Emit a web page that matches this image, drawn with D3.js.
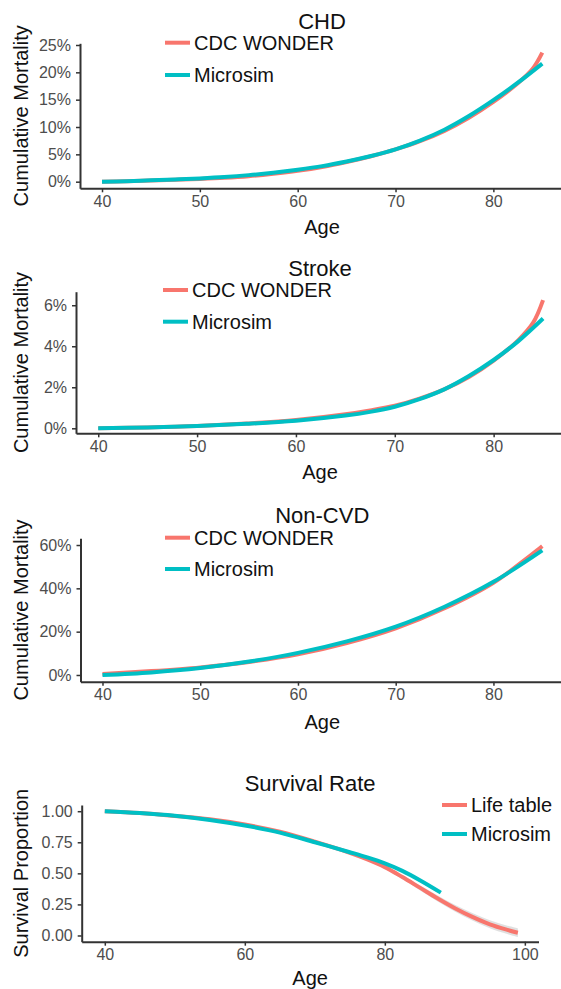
<!DOCTYPE html>
<html>
<head>
<meta charset="utf-8">
<script src="https://d3js.org/d3.v7.min.js"></script>
<style>
  body { margin: 0; background: #fff; }
  svg { display: block; font-family: "Liberation Sans", Arial, sans-serif; }
</style>
</head>
<body>
<div id="chart"></div>
<script>
// ---- data ----
// CHD cumulative mortality (%)
var chdAgeMicro = [40, 42.5, 45, 47.5, 50, 52.5, 55, 57.5, 60, 62.5, 65, 67.5, 70, 72.5, 75, 77.5, 80, 82.5, 85];
var chdMicro    = [0, 0.1, 0.25, 0.4, 0.6, 0.85, 1.2, 1.65, 2.2, 2.85, 3.7, 4.7, 5.9, 7.5, 9.5, 12.0, 14.9, 18.1, 21.6];
var chdAgeCdc   = [40, 42.5, 45, 47.5, 50, 52.5, 55, 57.5, 60, 62.5, 65, 67.5, 70, 72.5, 75, 77.5, 80, 82.5, 84, 85];
var chdCdc      = [0, 0.08, 0.2, 0.35, 0.5, 0.7, 1.0, 1.45, 2.0, 2.7, 3.6, 4.65, 5.9, 7.4, 9.3, 11.7, 14.6, 18.0, 20.6, 23.6];

// Stroke cumulative mortality (%)
var strokeAgeMicro = [40, 45, 50, 55, 60, 65, 67.5, 70, 72.5, 75, 77.5, 80, 82.5, 85];
var strokeMicro    = [0, 0.04, 0.11, 0.22, 0.37, 0.62, 0.8, 1.05, 1.42, 1.9, 2.55, 3.33, 4.25, 5.35];
var strokeAgeCdc   = [40, 45, 50, 55, 60, 65, 67.5, 70, 72.5, 75, 77.5, 80, 82.5, 84, 85];
var strokeCdc      = [0, 0.04, 0.11, 0.23, 0.4, 0.68, 0.87, 1.1, 1.45, 1.9, 2.5, 3.3, 4.3, 5.15, 6.25];

// Non-CVD cumulative mortality (%)
var noncvdAge   = [40, 45, 50, 55, 60, 65, 70, 75, 80, 85];
var noncvdMicro = [0, 1.2, 3.2, 6.2, 10.2, 15.5, 22.3, 31.5, 43, 57.5];
var noncvdCdc   = [0.5, 1.8, 3.5, 6.0, 9.5, 14.7, 21.5, 30.8, 42.6, 59.5];

// Survival proportion
var survAgeLife = [40, 45, 50, 55, 60, 65, 70, 75, 77.5, 80, 82.5, 85, 87.5, 90, 92.5, 95, 97.5, 99];
var survLife    = [1.0, 0.985, 0.962, 0.935, 0.893, 0.835, 0.755, 0.665, 0.612, 0.55, 0.47, 0.385, 0.30, 0.22, 0.15, 0.09, 0.045, 0.022];
var survLifeLow = [0.996, 0.981, 0.958, 0.931, 0.889, 0.831, 0.75, 0.659, 0.603, 0.538, 0.454, 0.365, 0.276, 0.193, 0.12, 0.058, 0.011, -0.013];
var survLifeHigh= [1.004, 0.989, 0.966, 0.939, 0.897, 0.839, 0.76, 0.671, 0.621, 0.562, 0.486, 0.405, 0.324, 0.247, 0.18, 0.122, 0.079, 0.057];
var survAgeMicro= [40, 45, 50, 55, 60, 65, 70, 75, 77.5, 80, 82.5, 85, 88];
var survMicro   = [1.0, 0.985, 0.963, 0.93, 0.885, 0.828, 0.75, 0.67, 0.628, 0.58, 0.52, 0.445, 0.345];

var pctTicks1 = [0, 5, 10, 15, 20, 25];
var pctTicks2 = [0, 2, 4, 6];
var pctTicks3 = [0, 20, 40, 60];
var survTicks = [0, 0.25, 0.5, 0.75, 1];
var ageTicksA = [40, 50, 60, 70, 80];
var ageTicksB = [40, 60, 80, 100];

var cdcLabels  = ["CDC WONDER", "Microsim"];
var lifeLabels = ["Life table", "Microsim"];

var red = "#F8766D", teal = "#00BFC4";

function zip(xs, ys) { return xs.map(function(x, i) { return [x, ys[i]]; }); }

// ---- panel layouts ----
var panels = [
  { title: "CHD", ytitle: "Cumulative Mortality",
    xd: [37.75, 87.25], xr: [80, 564.3], yd: [-1.21, 25.31], yr: [188.3, 43.3],
    xt: ageTicksA, yt: pctTicks1, fmt: function(d){ return d + "%"; },
    series: [{ pts: zip(chdAgeCdc, chdCdc), c: red }, { pts: zip(chdAgeMicro, chdMicro), c: teal }],
    legend: { labels: cdcLabels, x: 165, y: [42.7, 75] },
    titleY: 21, ageY: 227 },
  { title: "Stroke", ytitle: "Cumulative Mortality",
    xd: [37.75, 87.25], xr: [76, 565.3], yd: [-0.244, 6.66], yr: [433.3, 291.7],
    xt: ageTicksA, yt: pctTicks2, fmt: function(d){ return d + "%"; },
    series: [{ pts: zip(strokeAgeCdc, strokeCdc), c: red }, { pts: zip(strokeAgeMicro, strokeMicro), c: teal }],
    legend: { labels: cdcLabels, x: 163, y: [290, 321.7] },
    titleY: 268.5, ageY: 472 },
  { title: "Non-CVD", ytitle: "Cumulative Mortality",
    xd: [37.75, 87.25], xr: [80.5, 564.3], yd: [-3.1, 63.1], yr: [681.7, 538.3],
    xt: ageTicksA, yt: pctTicks3, fmt: function(d){ return d + "%"; },
    series: [{ pts: zip(noncvdAge, noncvdCdc), c: red }, { pts: zip(noncvdAge, noncvdMicro), c: teal }],
    legend: { labels: cdcLabels, x: 165, y: [537.7, 569] },
    titleY: 515, ageY: 722 },
  { title: "Survival Rate", ytitle: "Survival Proportion",
    xd: [36.7, 101.95], xr: [81.7, 538.5], yd: [-0.05, 1.05], yr: [941.7, 805],
    xt: ageTicksB, yt: survTicks, fmt: d3.format(".2f"),
    ribbon: { x: survAgeLife, lo: survLifeLow, hi: survLifeHigh },
    series: [{ pts: zip(survAgeLife, survLife), c: red }, { pts: zip(survAgeMicro, survMicro), c: teal }],
    legend: { labels: lifeLabels, x: 442, y: [805, 834] },
    titleY: 783.5, ageY: 978 }
];

var svg = d3.select("#chart").append("svg")
  .attr("width", 561)
  .attr("height", 989);

panels.forEach(function(p) {
  var x = d3.scaleLinear().domain(p.xd).range(p.xr);
  var y = d3.scaleLinear().domain(p.yd).range(p.yr);
  var g = svg.append("g");

  // confidence band
  if (p.ribbon) {
    var band = p.ribbon.x.map(function(a, i) { return { a: a, lo: p.ribbon.lo[i], hi: p.ribbon.hi[i] }; });
    g.append("path")
      .datum(band)
      .attr("d", d3.area()
        .x(function(d){ return x(d.a); })
        .y0(function(d){ return y(d.lo); })
        .y1(function(d){ return y(d.hi); })
        .curve(d3.curveCatmullRom))
      .attr("fill", "#bbb")
      .attr("opacity", 0.45);
  }

  var line = d3.line()
    .x(function(d){ return x(d[0]); })
    .y(function(d){ return y(d[1]); })
    .curve(d3.curveCatmullRom);

  p.series.forEach(function(s) {
    g.append("path")
      .attr("d", line(s.pts))
      .attr("fill", "none")
      .attr("stroke", s.c)
      .attr("stroke-width", 4)
      .attr("stroke-linecap", "butt");
  });

  // axes
  var xAxis = g.append("g")
    .attr("transform", "translate(0," + p.yr[0] + ")")
    .call(d3.axisBottom(x).tickValues(p.xt).tickSize(4).tickPadding(3).tickSizeOuter(0));
  var yAxis = g.append("g")
    .attr("transform", "translate(" + p.xr[0] + ",0)")
    .call(d3.axisLeft(y).tickValues(p.yt).tickFormat(p.fmt).tickSize(4).tickPadding(5).tickSizeOuter(0));
  [xAxis, yAxis].forEach(function(a) {
    a.select(".domain").attr("stroke", "#333").attr("stroke-width", 2);
    a.selectAll(".tick line").attr("stroke", "#333").attr("stroke-width", 1.5);
    a.selectAll(".tick text").attr("fill", "#4d4d4d").style("font-size", "16px");
  });

  var cx = (p.xr[0] + Math.min(p.xr[1], 564)) / 2;

  // title
  svg.append("text")
    .attr("x", cx).attr("y", p.titleY)
    .attr("text-anchor", "middle").attr("dominant-baseline", "central")
    .style("font-size", "22px").attr("fill", "#111")
    .text(p.title);

  // axis titles
  svg.append("text")
    .attr("x", cx).attr("y", p.ageY)
    .attr("text-anchor", "middle").attr("dominant-baseline", "central")
    .style("font-size", "20px").attr("fill", "#111")
    .text("Age");
  var ym = (p.yr[0] + p.yr[1]) / 2;
  svg.append("text")
    .attr("transform", "translate(21," + ym + ") rotate(-90)")
    .attr("text-anchor", "middle").attr("dominant-baseline", "central")
    .style("font-size", "20px").attr("fill", "#111")
    .text(p.ytitle);

  // legend
  p.legend.labels.forEach(function(lab, i) {
    var ly = p.legend.y[i];
    svg.append("line")
      .attr("x1", p.legend.x).attr("x2", p.legend.x + 25)
      .attr("y1", ly).attr("y2", ly)
      .attr("stroke", p.series[i].c).attr("stroke-width", 4);
    svg.append("text")
      .attr("x", p.legend.x + 29).attr("y", ly)
      .attr("dominant-baseline", "central")
      .style("font-size", "20px").attr("fill", "#111")
      .text(lab);
  });
});
</script>
</body>
</html>
